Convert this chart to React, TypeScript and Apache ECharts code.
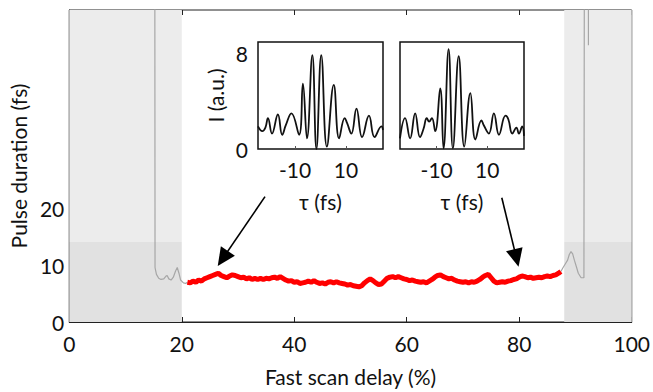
import React, { useEffect, useRef } from "react";
import * as echarts from "echarts";

// Main trace: fast scan delay (%) vs pulse duration (fs)
const grayLeft: [number, number][] = [
  [15.2, 80], [15.25, 9.6], [15.5, 8.4], [15.9, 7.7], [16.3, 7.5], [16.8, 7.6], [17.2, 8.1], [17.4, 8.2],
  [17.7, 7.6], [18.1, 7.4], [18.5, 7.9], [18.9, 9.0], [19.2, 9.6], [19.5, 8.6], [19.8, 7.4], [20.3, 6.9],
  [20.7, 6.8], [21.0, 7.0],
];
const grayRight: [number, number][] = [
  [87.4, 8.9], [87.8, 9.6], [88.1, 10.1], [88.6, 10.9], [88.9, 11.9], [89.2, 12.4], [89.5, 12.0], [89.8, 10.9],
  [90.2, 9.6], [90.5, 8.6], [91.0, 7.8], [91.5, 7.8], [91.6, 80], [92.3, 80], [92.3, 48.8],
];
const redDelay: number[] = [
  21.0, 21.5, 22.0, 22.5, 23.0, 23.5, 24.0, 24.5, 25.0, 25.5, 26.0, 26.5, 27.0, 27.5, 28.0, 28.5, 29.0, 29.5,
  30.0, 30.5, 31.0, 31.5, 32.0, 32.5, 33.0, 33.5, 34.0, 34.5, 35.0, 35.5, 36.0, 36.5, 37.0, 37.5, 38.0, 38.5,
  39.0, 39.5, 40.0, 40.5, 41.0, 41.5, 42.0, 42.5, 43.0, 43.5, 44.0, 44.5, 45.0, 45.5, 46.0, 46.5, 47.0, 47.5,
  48.0, 48.5, 49.0, 49.5, 50.0, 50.5, 51.0, 51.5, 52.0, 52.5, 53.0, 53.5, 54.0, 54.5, 55.0, 55.5, 56.0, 56.5,
  57.0, 57.5, 58.0, 58.5, 59.0, 59.5, 60.0, 60.5, 61.0, 61.5, 62.0, 62.5, 63.0, 63.5, 64.0, 64.5, 65.0, 65.5,
  66.0, 66.5, 67.0, 67.5, 68.0, 68.5, 69.0, 69.5, 70.0, 70.5, 71.0, 71.5, 72.0, 72.5, 73.0, 73.5, 74.0, 74.5,
  75.0, 75.5, 76.0, 76.5, 77.0, 77.5, 78.0, 78.5, 79.0, 79.5, 80.0, 80.5, 81.0, 81.5, 82.0, 82.5, 83.0, 83.5,
  84.0, 84.5, 85.0, 85.5, 86.0, 86.5, 87.0, 87.4,
];
const redPulse: number[] = [
  7.0, 6.9, 7.2, 7.0, 7.4, 7.2, 7.6, 7.8, 8.0, 8.2, 8.4, 8.6, 8.2, 8.0, 7.8, 8.1, 8.3, 8.2,
  8.0, 7.8, 7.9, 7.6, 7.8, 7.5, 7.7, 7.5, 7.7, 7.5, 7.7, 7.6, 7.8, 7.9, 7.7, 8.0, 7.7, 7.4,
  7.2, 7.3, 7.0, 7.1, 6.8, 6.9, 7.0, 7.2, 7.0, 7.3, 7.0, 6.8, 6.9, 6.7, 7.0, 7.1, 6.9, 7.1,
  6.9, 6.8, 6.7, 6.5, 6.6, 6.4, 6.3, 6.2, 6.4, 6.9, 7.3, 7.6, 7.3, 6.9, 6.6, 6.7, 7.2, 7.7,
  7.9, 8.0, 7.8, 8.0, 7.8, 7.6, 7.5, 7.3, 7.4, 7.2, 7.1, 7.0, 7.1, 6.9, 7.2, 7.5, 7.9, 8.2,
  8.3, 8.0, 7.8, 7.6, 7.7, 7.4, 7.2, 7.1, 7.0, 7.1, 6.9, 7.1, 7.0, 7.2, 7.5, 7.9, 8.2, 8.4,
  7.8, 7.2, 6.9, 7.0, 7.1, 7.0, 7.2, 7.3, 7.5, 7.6, 7.9, 8.1, 8.0, 7.8, 7.9, 7.7, 7.8, 7.9,
  7.8, 8.0, 8.1, 8.0, 8.2, 8.3, 8.6, 8.9,
];

// Shaded regions (delay %) and band split (fs)
const shadeLeft = [0, 20];
const shadeRight = [88, 100];
const bandSplit = 14.1;
const pulseMax = 55;

// Arrow annotations: [from delay, from fs, to delay, to fs]
const arrows: [number, number, number, number][] = [
  [34.8, 22.1, 27.3, 11.2],
  [76.9, 21.9, 79.5, 11.3],
];

// Insets: autocorrelation I (a.u.) vs tau (fs)
const inset1Tau = [-24.5, -22.8, -21.6, -20.6, -19.0, -16.7, -15.0, -13.6, -11.4, -8.4, -6.9, -5.3, -3.2, -1.6, 0.3, 2.5, 5.2, 7.3, 9.5, 10.4, 12.1, 14.1, 16.3, 19.0, 21.2, 23.9, 24.5];
const inset1I = [1.9, 1.5, 1.8, 2.6, 1.3, 2.9, 1.2, 2.0, 3.0, 1.2, 5.5, 0.9, 7.9, 0.0, 7.9, 0.2, 5.4, 0.9, 2.6, 2.2, 1.3, 3.4, 1.0, 2.8, 1.0, 1.9, 1.6];
const inset2Tau = [-24.5, -22.5, -20.5, -18.5, -16.6, -15.2, -13.9, -13.0, -11.9, -10.6, -8.6, -7.3, -5.3, -3.6, -1.3, 0.9, 3.3, 5.3, 7.7, 8.6, 10.6, 12.6, 14.6, 17.2, 18.3, 19.9, 21.5, 22.5, 23.8, 24.5];
const inset2I = [0.9, 2.6, 0.9, 3.0, 1.0, 1.7, 2.6, 2.3, 2.6, 1.5, 5.1, 0.05, 8.4, 0.05, 7.8, 0.2, 4.7, 0.8, 2.4, 2.0, 1.3, 3.0, 1.2, 2.8, 2.5, 1.3, 1.8, 1.3, 1.9, 1.1];
const insetTicks = [-10, 10];
const insetYTicks = [0, 8];
const mainYTicks = [0, 10, 20];

const FONT = "Lato";
const TXT = "#111";

export default function App() {
  const ref = useRef<HTMLDivElement>(null);
  useEffect(() => {
    if (!ref.current) return;
    const chart = echarts.init(ref.current, null, { renderer: "svg" });
    const zip = (a: number[], b: number[]) => a.map((v, i) => [v, b[i]]);
    const shadeItem = (r: number[], y0: number, y1: number, color: string) => [
      { xAxis: r[0], yAxis: y0, itemStyle: { color } },
      { xAxis: r[1], yAxis: y1 },
    ];
    const insetX = (grid: number, showName: boolean) => ({
      gridIndex: grid,
      type: "value",
      min: -24.5,
      max: 24.5,
      axisLine: { show: false },
      axisTick: { show: true, inside: true, length: 3, customValues: insetTicks, lineStyle: { color: "#555" } },
      axisLabel: { customValues: insetTicks, fontSize: 21, color: TXT, margin: 10, fontFamily: FONT },
      splitLine: { show: false },
      name: showName ? "τ (fs)" : "",
      nameLocation: "middle",
      nameGap: 42,
      nameTextStyle: { fontSize: 21, color: TXT, fontFamily: FONT },
    });
    const option: any = {
      animation: false,
      textStyle: { fontFamily: FONT },
      grid: [
        { left: 68, right: 19, top: 10, bottom: 62, show: true, borderColor: "#222", borderWidth: 1, backgroundColor: "transparent" },
        { left: 258, top: 42, width: 125, height: 107, show: true, borderColor: "#111", borderWidth: 1.5, backgroundColor: "#fff" },
        { left: 400, top: 42, width: 124, height: 107, show: true, borderColor: "#111", borderWidth: 1.5, backgroundColor: "#fff" },
      ],
      xAxis: [
        {
          gridIndex: 0, type: "value", min: 0, max: 100, interval: 20,
          axisLine: { show: true, lineStyle: { color: "#222" } },
          axisTick: { inside: true, length: 5, lineStyle: { color: "#222" } },
          axisLabel: { fontSize: 21, color: TXT, margin: 11, fontFamily: FONT },
          splitLine: { show: false },
          name: "Fast scan delay (%)", nameLocation: "middle", nameGap: 44,
          nameTextStyle: { fontSize: 21, color: TXT, fontFamily: FONT },
        },
        {
          gridIndex: 0, type: "value", position: "top", min: 0, max: 100, interval: 20,
          axisLine: { show: false },
          axisTick: { inside: true, length: 5, lineStyle: { color: "#222" } },
          axisLabel: { show: false }, splitLine: { show: false },
        },
        insetX(1, true),
        insetX(2, true),
      ],
      yAxis: [
        {
          gridIndex: 0, type: "value", min: 0, max: pulseMax,
          axisLine: { show: true, lineStyle: { color: "#222" } },
          axisTick: { inside: true, length: 5, customValues: mainYTicks, lineStyle: { color: "#222" } },
          axisLabel: { customValues: mainYTicks, fontSize: 21, color: TXT, margin: 5, fontFamily: FONT },
          splitLine: { show: false },
          name: "Pulse duration (fs)", nameLocation: "middle", nameGap: 34, nameRotate: 90,
          nameTextStyle: { fontSize: 21, color: TXT, fontFamily: FONT },
        },
        {
          gridIndex: 1, type: "value", min: 0, max: 9,
          axisLine: { show: false },
          axisTick: { show: false },
          axisLabel: { customValues: insetYTicks, fontSize: 21, color: TXT, margin: 10, fontFamily: FONT },
          splitLine: { show: false },
          name: "I (a.u.)", nameLocation: "middle", nameGap: 32, nameRotate: 90,
          nameTextStyle: { fontSize: 21, color: TXT, fontFamily: FONT },
        },
        {
          gridIndex: 2, type: "value", min: 0, max: 9,
          axisLine: { show: false }, axisTick: { show: false }, axisLabel: { show: false }, splitLine: { show: false },
        },
      ],
      series: [
        {
          type: "line", xAxisIndex: 0, yAxisIndex: 0, data: grayLeft, showSymbol: false, z: 3,
          lineStyle: { color: "#a6a6a6", width: 1.2 }, itemStyle: { color: "#a6a6a6" },
          markArea: {
            silent: true,
            data: [
              shadeItem(shadeLeft, bandSplit, pulseMax, "#ececec"),
              shadeItem(shadeLeft, 0, bandSplit, "#e1e1e1"),
              shadeItem(shadeRight, bandSplit, pulseMax, "#ececec"),
              shadeItem(shadeRight, 0, bandSplit, "#e1e1e1"),
            ],
          },
        },
        {
          type: "line", xAxisIndex: 0, yAxisIndex: 0, data: grayRight, showSymbol: false, z: 3,
          lineStyle: { color: "#a6a6a6", width: 1.2 }, itemStyle: { color: "#a6a6a6" },
        },
        {
          type: "line", xAxisIndex: 0, yAxisIndex: 0, data: zip(redDelay, redPulse), showSymbol: false, z: 4,
          lineStyle: { color: "#ff0000", width: 5 }, itemStyle: { color: "#ff0000" },
          markLine: {
            silent: true,
            symbol: ["none", "triangle"],
            symbolSize: [17, 18],
            label: { show: false },
            itemStyle: { color: "#000" },
            lineStyle: { color: "#000", width: 1.6, type: "solid" },
            emphasis: { disabled: true },
            data: arrows.map((a) => [
              { coord: [a[0], a[1]], symbol: "none" },
              { coord: [a[2], a[3]], symbol: "triangle", symbolSize: [17, 18] },
            ]),
          },
        },
        {
          type: "line", xAxisIndex: 2, yAxisIndex: 1, data: zip(inset1Tau, inset1I), showSymbol: false, smooth: 0.45, z: 6,
          lineStyle: { color: "#111", width: 1.8 }, itemStyle: { color: "#111" },
        },
        {
          type: "line", xAxisIndex: 3, yAxisIndex: 2, data: zip(inset2Tau, inset2I), showSymbol: false, smooth: 0.45, z: 6,
          lineStyle: { color: "#111", width: 1.8 }, itemStyle: { color: "#111" },
        },
      ],
    };
    chart.setOption(option);
    return () => chart.dispose();
  }, []);
  return <div ref={ref} style={{ position: "absolute", left: 0, top: 0, width: 653, height: 392 }} />;
}
